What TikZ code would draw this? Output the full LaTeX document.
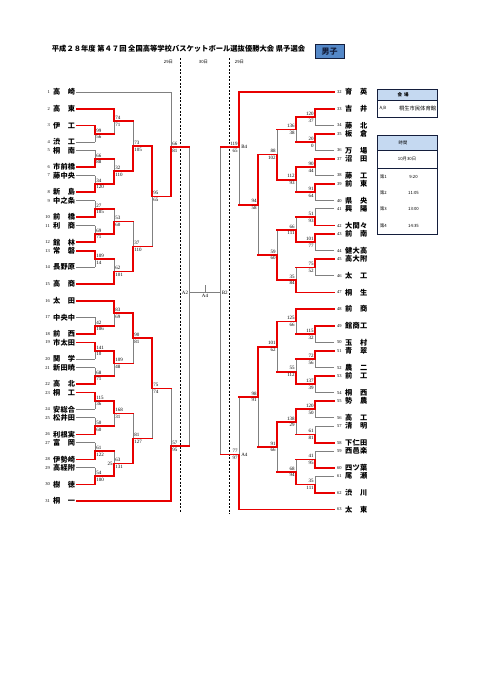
\documentclass[tikz,border=0pt]{standalone}
\usepackage{fontspec}
\setmainfont{Liberation Serif}
\newfontfamily\jp{Noto Sans CJK JP}
\pgfdeclarelayer{bg}
\pgfsetlayers{bg,main}
\definecolor{wred}{RGB}{232,0,0}
\definecolor{lgray}{RGB}{128,128,128}
\definecolor{hblue}{RGB}{197,217,241}
\definecolor{bblue}{RGB}{84,136,200}
\definecolor{navy}{RGB}{20,30,60}
\newcommand\Y[1]{92+8.35*#1}
\def\twox#1#2{\makebox[22pt]{#1\hfill#2}}
\def\threex#1#2#3{\makebox[22pt]{#1\hfill#2\hfill#3}}
\newcommand\two[1]{\twox#1}
\newcommand\three[1]{\threex#1}
\tikzset{
  win/.style={draw=wred,line width=1.7pt,line cap=rect},
  lose/.style={draw=lgray,line width=0.9pt},
  tname/.style={font=\jp\bfseries\fontsize{7.2}{8}\selectfont,inner sep=0pt},
  tnum/.style={font=\fontsize{4.5}{5}\selectfont,inner sep=0pt},
  score/.style={font=\fontsize{5}{5}\selectfont,inner sep=0.6pt},
  small/.style={font=\jp\fontsize{4.3}{5}\selectfont,inner sep=0pt},
  dayline/.style={draw=black,line width=0.8pt,dash pattern=on 2pt off 1.5pt},
}
% left team: num, row, name, junction x, w/l
\newcommand\lteam[5]{%
  \node[tnum,anchor=east] (ln#1) at (50,{\Y{#2}}) {#1};
  \node[tname,anchor=west] (lt#1) at (53,{\Y{#2}}) {#3};
  \coordinate (lj#1) at (#4,{\Y{#2}});
  \ifx w#5 \draw[win] ([xshift=1pt]lt#1.east) -- (lj#1);
  \else \begin{pgfonlayer}{bg}\draw[lose] ([xshift=1pt]lt#1.east) -- (lj#1);\end{pgfonlayer}\fi
}
% right team
\newcommand\rteam[5]{%
  \node[tnum,anchor=west] (rn#1) at (337,{\Y{#2}}) {#1};
  \node[tname,anchor=west] (rt#1) at (345,{\Y{#2}}) {#3};
  \coordinate (rs#1) at (334,{\Y{#2}});
  \coordinate (rj#1) at (#4,{\Y{#2}});
  \ifx w#5 \draw[win] (rs#1) -- (rj#1);
  \else \begin{pgfonlayer}{bg}\draw[lose] (rs#1) -- (rj#1);\end{pgfonlayer}\fi
}
% match: name, xj, row a, row b, row mid, u/d, xnext, score a, score b
\newcommand\lmatch[9]{%
  \coordinate (#1u) at (#2,{\Y{#3}});
  \coordinate (#1d) at (#2,{\Y{#4}});
  \coordinate (#1) at (#2,{\Y{#5}});
  \coordinate (#1o) at (#7,{\Y{#5}});
  \ifx u#6
    \begin{pgfonlayer}{bg}\draw[lose] (#1) -- (#1d);\end{pgfonlayer}
    \draw[win] (#1u) -- (#1) -- (#1o);
  \else
    \begin{pgfonlayer}{bg}\draw[lose] (#1u) -- (#1);\end{pgfonlayer}
    \draw[win] (#1d) -- (#1) -- (#1o);
  \fi
  \node[score,anchor=south west] (#1sa) at ([xshift=0.6pt,yshift=0.9pt]#1) {#8};
  \node[score,anchor=north west] (#1sb) at ([xshift=0.6pt,yshift=-0.9pt]#1) {#9};
}
\newcommand\rmatch[9]{%
  \coordinate (#1u) at (#2,{\Y{#3}});
  \coordinate (#1d) at (#2,{\Y{#4}});
  \coordinate (#1) at (#2,{\Y{#5}});
  \coordinate (#1o) at (#7,{\Y{#5}});
  \ifx u#6
    \begin{pgfonlayer}{bg}\draw[lose] (#1) -- (#1d);\end{pgfonlayer}
    \draw[win] (#1u) -- (#1) -- (#1o);
  \else
    \begin{pgfonlayer}{bg}\draw[lose] (#1u) -- (#1);\end{pgfonlayer}
    \draw[win] (#1d) -- (#1) -- (#1o);
  \fi
  \node[score,anchor=south east] (#1sa) at ([xshift=-0.6pt,yshift=0.9pt]#1) {#8};
  \node[score,anchor=north east] (#1sb) at ([xshift=-0.6pt,yshift=-0.9pt]#1) {#9};
}
\begin{document}
\begin{tikzpicture}[x=1pt,y=-1pt]
\useasboundingbox (0,0) rectangle (481,680);
\begin{pgfonlayer}{bg}
\fill[white] (0,0) rectangle (481,680);
\end{pgfonlayer}

% title
\node[anchor=west,font=\jp\bfseries\fontsize{7.3}{8}\selectfont,inner sep=0pt] (title) at (51.7,48.3)
  {平成２８年度 第４７回 全国高等学校バスケットボール選抜優勝大会 県予選会};
\node[draw=navy,line width=0.8pt,fill=bblue,minimum width=29pt,minimum height=14.5pt,inner sep=0pt,
  font=\jp\bfseries\fontsize{8}{8}\selectfont,text=navy] (boys) at (329.5,51.6) {男子};

% day columns
\node[small] (d1) at (168.5,62.3) {29日};
\node[small] (d2) at (203.5,62.3) {30日};
\node[small] (d3) at (239.5,62.3) {29日};
\coordinate (dl1t) at (180,58); \coordinate (dl1b) at (180,513);
\coordinate (dl2t) at (229.5,58); \coordinate (dl2b) at (229.5,514);
\draw[dayline] (dl1t) -- (dl1b);
\draw[dayline] (dl2t) -- (dl2b);

% left teams
\lteam{1}{0}{\two{高崎}}{171}{l}
\lteam{2}{2}{\two{高東}}{114}{w}
\lteam{3}{4}{\two{伊工}}{95}{w}
\lteam{4}{6}{\two{渋工}}{95}{l}
\lteam{5}{7}{\two{桐南}}{95}{l}
\lteam{6}{9}{\three{市前橋}}{95}{w}
\lteam{7}{10}{\three{藤中央}}{95}{l}
\lteam{8}{12}{\two{新島}}{95}{w}
\lteam{9}{13}{\three{中之条}}{95}{l}
\lteam{10}{15}{\two{前橋}}{95}{w}
\lteam{11}{16}{\two{利商}}{95}{l}
\lteam{12}{18}{\two{館林}}{95}{w}
\lteam{13}{19}{\two{常磐}}{95}{w}
\lteam{14}{21}{\three{長野原}}{95}{l}
\lteam{15}{23}{\two{高商}}{114}{w}
\lteam{16}{25}{\two{太田}}{114}{w}
\lteam{17}{27}{\three{中央中}}{95}{l}
\lteam{18}{29}{\two{前西}}{95}{w}
\lteam{19}{30}{\three{市太田}}{95}{w}
\lteam{20}{32}{\two{関学}}{95}{l}
\lteam{21}{33}{\three{新田暁}}{95}{l}
\lteam{22}{35}{\two{高北}}{95}{w}
\lteam{23}{36}{\two{桐工}}{95}{w}
\lteam{24}{38}{\three{安総合}}{95}{l}
\lteam{25}{39}{\three{松井田}}{95}{l}
\lteam{26}{41}{\three{利根実}}{95}{w}
\lteam{27}{42}{\two{富岡}}{95}{l}
\lteam{28}{44}{\three{伊勢崎}}{95}{w}
\lteam{29}{45}{\three{高経附}}{95}{l}
\lteam{30}{47}{\two{樹徳}}{95}{w}
\lteam{31}{49}{\two{桐一}}{171}{w}

% right teams
\rteam{32}{0}{\two{育英}}{239}{w}
\rteam{33}{2}{\two{吉井}}{315}{w}
\rteam{34}{4}{\two{藤北}}{315}{l}
\rteam{35}{5}{\two{板倉}}{315}{w}
\rteam{36}{7}{\two{万場}}{315}{l}
\rteam{37}{8}{\two{沼田}}{315}{w}
\rteam{38}{10}{\two{藤工}}{315}{l}
\rteam{39}{11}{\two{前東}}{315}{w}
\rteam{40}{13}{\two{県央}}{315}{l}
\rteam{41}{14}{\two{興陽}}{315}{l}
\rteam{42}{16}{\three{大間々}}{315}{w}
\rteam{43}{17}{\two{前南}}{315}{w}
\rteam{44}{19}{\three{健大高}}{315}{l}
\rteam{45}{20}{\three{高大附}}{315}{w}
\rteam{46}{22}{\two{太工}}{315}{l}
\rteam{47}{24}{\two{桐生}}{296}{w}
\rteam{48}{26}{\two{前商}}{296}{w}
\rteam{49}{28}{\three{館商工}}{315}{w}
\rteam{50}{30}{\two{玉村}}{315}{l}
\rteam{51}{31}{\two{青翠}}{315}{w}
\rteam{52}{33}{\two{農二}}{315}{l}
\rteam{53}{34}{\two{前工}}{315}{w}
\rteam{54}{36}{\two{桐西}}{315}{l}
\rteam{55}{37}{\two{勢農}}{315}{w}
\rteam{56}{39}{\two{高工}}{315}{l}
\rteam{57}{40}{\two{清明}}{315}{l}
\rteam{58}{42}{\three{下仁田}}{315}{w}
\rteam{59}{43}{\three{西邑楽}}{315}{l}
\rteam{60}{45}{\three{四ツ葉}}{315}{w}
\rteam{61}{46}{\two{尾瀬}}{315}{l}
\rteam{62}{48}{\two{渋川}}{315}{w}
\rteam{63}{50}{\two{太東}}{239}{w}

% left matches
\lmatch{a1}{95}{4}{6}{5}{u}{114}{99}{56}
\lmatch{a2}{95}{7}{9}{8}{d}{114}{66}{88}
\lmatch{a3}{95}{10}{12}{11}{d}{114}{34}{120}
\lmatch{a4}{95}{13}{15}{14}{d}{114}{27}{105}
\lmatch{a5}{95}{16}{18}{17}{d}{114}{69}{71}
\lmatch{a6}{95}{19}{21}{20}{u}{114}{109}{14}
\lmatch{a7}{95}{27}{29}{28}{d}{114}{42}{106}
\lmatch{a8}{95}{30}{32}{31}{u}{114}{141}{10}
\lmatch{a9}{95}{33}{35}{34}{d}{114}{68}{71}
\lmatch{a10}{95}{36}{38}{37}{u}{114}{115}{36}
\lmatch{a11}{95}{39}{41}{40}{d}{114}{50}{60}
\lmatch{a12}{95}{42}{44}{43}{d}{114}{61}{122}
\lmatch{a13}{95}{45}{47}{46}{d}{114}{54}{100}
\lmatch{b1}{114}{2}{5}{3.5}{u}{133}{74}{71}
\lmatch{b2}{114}{8}{11}{9.5}{d}{133}{32}{110}
\lmatch{b3}{114}{14}{17}{15.5}{d}{133}{53}{60}
\lmatch{b4}{114}{20}{23}{21.5}{d}{133}{62}{101}
\lmatch{b5}{114}{25}{28}{26.5}{u}{133}{83}{69}
\lmatch{b6}{114}{31}{34}{32.5}{u}{133}{109}{48}
\lmatch{b7}{114}{37}{40}{38.5}{u}{133}{168}{31}
\lmatch{b8}{114}{43}{46}{44.5}{d}{133}{63}{131}
\lmatch{c1}{133}{3.5}{9.5}{6.5}{d}{152}{73}{105}
\lmatch{c2}{133}{15.5}{21.5}{18.5}{d}{152}{37}{110}
\lmatch{c3}{133}{26.5}{32.5}{29.5}{u}{152}{90}{81}
\lmatch{c4}{133}{38.5}{44.5}{41.5}{d}{152}{81}{127}
\lmatch{d1}{152}{6.5}{18.5}{12.5}{u}{171}{95}{65}
\lmatch{d2}{152}{29.5}{41.5}{35.5}{u}{171}{75}{74}
\lmatch{e1}{171}{0}{12.5}{6.6}{d}{189.5}{66}{81}
\lmatch{e2}{171}{35.5}{49}{42.4}{d}{189.5}{57}{95}
\node[score,anchor=east] (x25) at ([xshift=-0.6pt]b8) {25};

% right matches
\rmatch{p1}{315}{2}{4}{3}{u}{296}{120}{37}
\rmatch{p2}{315}{5}{7}{6}{u}{296}{20}{0}
\rmatch{p3}{315}{8}{10}{9}{u}{296}{90}{44}
\rmatch{p4}{315}{11}{13}{12}{u}{296}{91}{64}
\rmatch{p5}{315}{14}{16}{15}{d}{296}{51}{93}
\rmatch{p6}{315}{17}{19}{18}{u}{296}{101}{77}
\rmatch{p7}{315}{20}{22}{21}{u}{296}{75}{52}
\rmatch{p8}{315}{28}{30}{29}{u}{296}{115}{32}
\rmatch{p9}{315}{31}{33}{32}{u}{296}{72}{56}
\rmatch{p10}{315}{34}{36}{35}{u}{296}{137}{39}
\rmatch{p11}{315}{37}{39}{38}{u}{296}{120}{50}
\rmatch{p12}{315}{40}{42}{41}{d}{296}{61}{81}
\rmatch{p13}{315}{43}{45}{44}{d}{296}{41}{95}
\rmatch{p14}{315}{46}{48}{47}{d}{296}{35}{111}
\rmatch{q1}{296}{3}{6}{4.5}{u}{277}{136}{38}
\rmatch{q2}{296}{9}{12}{10.5}{u}{277}{112}{93}
\rmatch{q3}{296}{15}{18}{16.5}{d}{277}{66}{111}
\rmatch{q4}{296}{21}{24}{22.5}{d}{277}{35}{84}
\rmatch{q5}{296}{26}{29}{27.5}{u}{277}{125}{66}
\rmatch{q6}{296}{32}{35}{33.5}{d}{277}{55}{112}
\rmatch{q7}{296}{38}{41}{39.5}{u}{277}{138}{29}
\rmatch{q8}{296}{44}{47}{45.5}{d}{277}{68}{94}
\rmatch{r1}{277}{4.5}{10.5}{7.5}{d}{258}{88}{102}
\rmatch{r2}{277}{16.5}{22.5}{19.5}{d}{258}{59}{60}
\rmatch{r3}{277}{27.5}{33.5}{30.5}{u}{258}{101}{62}
\rmatch{r4}{277}{39.5}{45.5}{42.5}{u}{258}{91}{66}
\rmatch{s1}{258}{7.5}{19.5}{13.5}{u}{239}{94}{58}
\rmatch{s2}{258}{30.5}{42.5}{36.5}{u}{239}{98}{91}
\rmatch{t1}{239}{0}{13.5}{6.6}{u}{220.5}{119}{65}
\rmatch{t2}{239}{36.5}{50}{43.4}{d}{220.5}{77}{97}
\node[score,anchor=west] (xb4) at ([xshift=1.5pt]t1) {B4};
\node[score,anchor=west] (xa4) at ([xshift=1.5pt]t2) {A4};

% semifinals and final
\begin{pgfonlayer}{bg}
\draw[lose] (e1o) -- (e2o);
\draw[lose] (t1o) -- (t2o);
\end{pgfonlayer}
\coordinate (A2) at (189.5,292.7);
\coordinate (B2) at (220.5,292.7);
\coordinate (A4) at (205,292.7);
\coordinate (A4t) at (205,285.3);
\draw[lose] (A2) -- (B2);
\draw[lose] (A4) -- (A4t);
\node[score,anchor=east] (lA2) at ([xshift=-0.6pt]A2) {A2};
\node[score,anchor=west] (lB2) at ([xshift=0.6pt]B2) {B2};
\node[score,anchor=north] (lA4) at ([yshift=-0.8pt]A4) {A4};

% venue box
\fill[hblue] (377,89) rectangle (437,100);
\draw[navy,line width=0.5pt] (377,100) -- (437,100);
\draw[navy,line width=1pt] (377,89) rectangle (437,117);
\node[small,font=\jp\bfseries\fontsize{4.5}{5}\selectfont] (vh) at (403,94.5) {会\hspace{2pt}場};
\node[small] (vab) at (383,108.5) {A,B};
\node[small,anchor=east,font=\jp\fontsize{5.3}{6}\selectfont] (vname) at (436.3,108.5) {桐生市民体育館};

% time box
\fill[hblue] (377,135) rectangle (437,150);
\draw[navy,line width=0.5pt] (377,150) -- (437,150);
\draw[navy,line width=0.5pt] (377,168) -- (437,168);
\draw[navy,line width=1pt] (377,135) rectangle (437,234);
\node[small] (th) at (403,142.5) {時間};
\node[small] (tdate) at (407,159) {10月30日};
\node[small] (k1) at (383.5,176.7) {第1};
\node[small] (k2) at (383.5,192.7) {第2};
\node[small] (k3) at (383.5,209.3) {第3};
\node[small] (k4) at (383.5,226) {第4};
\node[small] (h1) at (413.5,176.7) {9:20};
\node[small] (h2) at (413.5,192.7) {11:05};
\node[small] (h3) at (413.5,209.3) {13:00};
\node[small] (h4) at (413.5,226) {14:35};
\end{tikzpicture}
\end{document}
